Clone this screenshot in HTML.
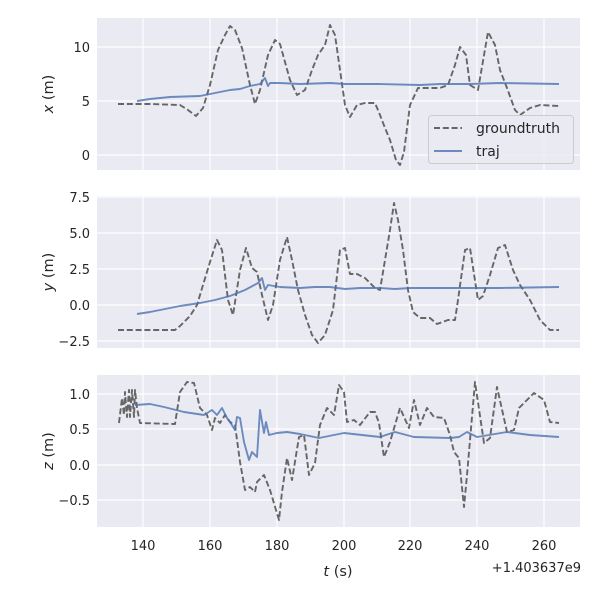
<!DOCTYPE html>
<html><head><style>body{margin:0;background:#fff}svg{display:block}text{font-family:"DejaVu Sans","Liberation Sans",sans-serif;fill:#262626}</style></head><body>
<svg width="600" height="600" viewBox="0 0 600 600">
<g id="grid">
<rect x="97" y="18" width="483" height="152" fill="#eaeaf2"/>
<rect x="97" y="196" width="483" height="152" fill="#eaeaf2"/>
<rect x="97" y="375" width="483" height="152" fill="#eaeaf2"/>
<g stroke="#fff" stroke-width="1.2">
<line x1="143" y1="18" x2="143" y2="170"/><line x1="210" y1="18" x2="210" y2="170"/><line x1="277" y1="18" x2="277" y2="170"/><line x1="344" y1="18" x2="344" y2="170"/><line x1="410" y1="18" x2="410" y2="170"/><line x1="477" y1="18" x2="477" y2="170"/><line x1="544" y1="18" x2="544" y2="170"/>
<line x1="97" y1="47" x2="580" y2="47"/><line x1="97" y1="101" x2="580" y2="101"/><line x1="97" y1="155" x2="580" y2="155"/>
<line x1="143" y1="196" x2="143" y2="348"/><line x1="210" y1="196" x2="210" y2="348"/><line x1="277" y1="196" x2="277" y2="348"/><line x1="344" y1="196" x2="344" y2="348"/><line x1="410" y1="196" x2="410" y2="348"/><line x1="477" y1="196" x2="477" y2="348"/><line x1="544" y1="196" x2="544" y2="348"/>
<line x1="97" y1="197" x2="580" y2="197"/><line x1="97" y1="233" x2="580" y2="233"/><line x1="97" y1="269" x2="580" y2="269"/><line x1="97" y1="305" x2="580" y2="305"/><line x1="97" y1="341" x2="580" y2="341"/>
<line x1="143" y1="375" x2="143" y2="527"/><line x1="210" y1="375" x2="210" y2="527"/><line x1="277" y1="375" x2="277" y2="527"/><line x1="344" y1="375" x2="344" y2="527"/><line x1="410" y1="375" x2="410" y2="527"/><line x1="477" y1="375" x2="477" y2="527"/><line x1="544" y1="375" x2="544" y2="527"/>
<line x1="97" y1="394" x2="580" y2="394"/><line x1="97" y1="429" x2="580" y2="429"/><line x1="97" y1="465" x2="580" y2="465"/><line x1="97" y1="500" x2="580" y2="500"/>
</g></g>
<g fill="none" stroke-linejoin="round">
<polyline stroke="#666" stroke-width="1.9" stroke-dasharray="6,2.8" points="118,104 150,104 180,105 188,110 196,116 203,108 210,85 218,50 225,35 230,26 235,30 242,48 250,85 255,104 260,90 268,55 275,40 280,44 290,80 297,95 305,90 312,70 318,55 325,45 330,25 335,35 340,70 345,105 350,117 357,105 365,103 375,103 380,115 385,128 390,140 396,160 400,165 404,152 410,105 418,88 440,88 448,85 455,65 460,47 466,55 470,85 478,90 488,32 495,45 500,70 507,88 515,110 520,115 530,108 540,105 559,106"/>
<polyline stroke="#4c72b0" stroke-opacity="0.8" stroke-width="1.9" points="137,101 150,99 170,97 200,96 215,93 230,90 240,89 250,86 260,84 265,78 268,86 270,83 280,83 300,84 330,83 345,84 380,84 420,85 440,84 470,84 500,83 559,84"/>
<polyline stroke="#666" stroke-width="1.9" stroke-dasharray="6,2.8" points="118,330 150,330 175,330 180,326 190,316 197,305 203,285 210,262 217,240 222,250 228,300 233,315 240,270 246,248 252,268 257,272 262,295 268,320 273,305 280,260 287,237 292,260 298,290 305,315 312,335 318,343 325,335 333,310 340,250 345,248 350,274 357,274 365,278 375,288 380,290 385,260 390,230 394,203 398,220 403,250 408,290 413,312 420,318 430,318 437,324 448,320 455,320 458,300 465,250 470,248 478,300 483,296 490,275 498,248 505,245 513,270 520,285 530,300 540,320 550,330 559,330"/>
<polyline stroke="#4c72b0" stroke-opacity="0.8" stroke-width="1.9" points="137,314 150,312 180,306 200,303 215,300 230,296 245,290 258,283 262,278 265,290 268,285 280,287 300,288 315,287 330,287 345,289 360,288 380,288 395,289 410,288 440,288 500,288 559,287"/>
<polyline stroke="#666" stroke-width="1.9" stroke-dasharray="6,2.8" points="119,423 122,398 124,415 125,392 127,417 129,390 130,417 132,390 134,417 135,390 137,408 140,423 175,424 180,392 187,382 194,383 200,408 207,415 212,430 215,418 220,423 225,415 230,422 235,425 240,462 245,490 250,487 255,492 257,482 264,475 270,490 279,520 282,492 287,458 292,480 299,437 304,435 309,475 315,463 320,425 327,408 334,415 339,385 344,392 347,422 354,420 360,425 370,412 375,412 379,423 384,457 390,442 400,408 409,428 414,400 420,425 427,408 434,417 444,418 450,435 454,452 459,458 464,507 467,475 475,382 484,443 490,438 497,387 507,432 514,430 519,408 527,400 534,393 544,400 550,422 559,423"/>
<polyline stroke="#4c72b0" stroke-opacity="0.8" stroke-width="1.9" points="135,405 150,404 164,407 184,412 204,415 212,410 217,415 222,408 227,418 230,422 235,430 237,417 240,418 244,442 249,460 252,452 257,457 260,410 264,433 266,422 269,435 277,433 287,432 300,434 319,438 344,433 380,437 395,432 414,437 450,438 459,437 467,432 477,437 507,432 530,435 559,437"/>
</g>
<g font-size="13" text-anchor="end">
<text x="90" y="52">10</text><text x="90" y="106">5</text><text x="90" y="160">0</text>
<text x="90" y="202">7.5</text><text x="90" y="238">5.0</text><text x="90" y="274">2.5</text><text x="90" y="310">0.0</text><text x="90" y="346">−2.5</text>
<text x="90" y="399">1.0</text><text x="90" y="434">0.5</text><text x="90" y="470">0.0</text><text x="90" y="505">−0.5</text>
</g>
<g font-size="13" text-anchor="middle">
<text x="143" y="550">140</text><text x="210" y="550">160</text><text x="277" y="550">180</text><text x="344" y="550">200</text><text x="410" y="550">220</text><text x="477" y="550">240</text><text x="544" y="550">260</text>
<text x="338" y="576" font-size="14.5"><tspan font-style="italic">t</tspan> (s)</text>
</g>
<text x="581" y="572" font-size="13" text-anchor="end">+1.403637e9</text>
<g font-size="14.5" text-anchor="middle">
<text transform="translate(53,94) rotate(-90)"><tspan font-style="italic">x</tspan> (m)</text>
<text transform="translate(53,272) rotate(-90)"><tspan font-style="italic">y</tspan> (m)</text>
<text transform="translate(53,451) rotate(-90)"><tspan font-style="italic">z</tspan> (m)</text>
</g>
<rect x="428.5" y="115.5" width="145" height="48" rx="3" fill="#eaeaf2" fill-opacity="0.8" stroke="#ccc"/>
<line x1="434" y1="128" x2="462" y2="128" stroke="#666" stroke-width="1.9" stroke-dasharray="6,2.8"/>
<line x1="434" y1="151" x2="462" y2="151" stroke="#4c72b0" stroke-opacity="0.8" stroke-width="1.9"/>
<text x="476" y="133" font-size="14">groundtruth</text>
<text x="476" y="156" font-size="14">traj</text>
</svg>
</body></html>
